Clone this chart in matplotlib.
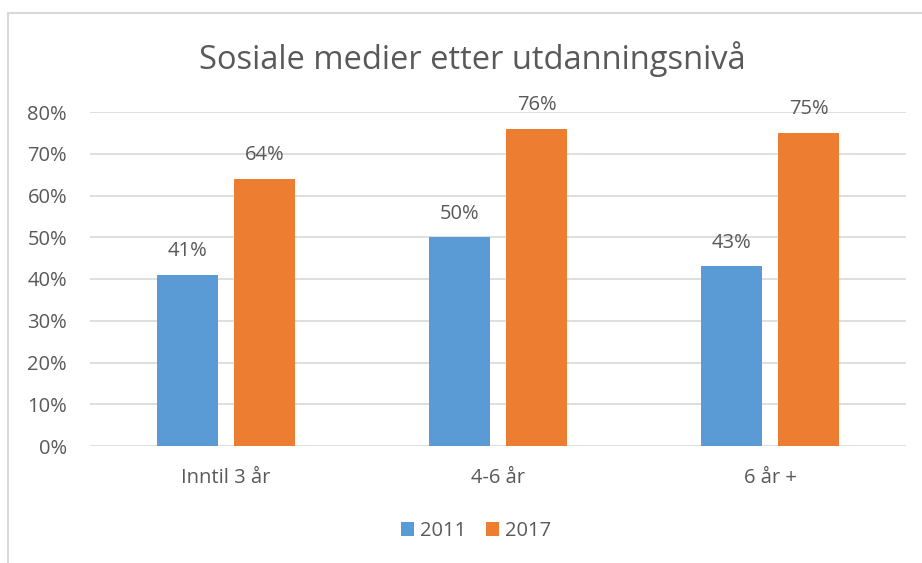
import numpy as np
import matplotlib.pyplot as plt
from matplotlib.patches import Rectangle

# data
categories = ['Inntil 3 år', '4-6 år', '6 år +']
years = ['2011', '2017']
values_2011 = [41, 50, 43]
values_2017 = [64, 76, 75]
colors = ['#5B9BD5', '#ED7D31']
text_color = '#595959'

plt.rcParams['font.family'] = ['Open Sans', 'DejaVu Sans']

fig = plt.figure(figsize=(9.22, 5.63), dpi=100)
# plot area in pixels: x 90..906, y 112..446 (image coords)
W, H = 922, 563
ax = fig.add_axes([90 / W, 1 - 446 / H, (906 - 90) / W, (446 - 112) / H])

# chart border (extends past right/bottom edge like the crop)
fig.patches.append(Rectangle((8 / W, -0.1), 1.2, 1 - 13 / H + 0.1,
                             transform=fig.transFigure, fill=False,
                             edgecolor='#D9D9D9', linewidth=1.5))

x = np.arange(len(categories))
width = 0.224
offset = 0.142
bars1 = ax.bar(x - offset, values_2011, width, color=colors[0], label=years[0], zorder=3)
bars2 = ax.bar(x + offset, values_2017, width, color=colors[1], label=years[1], zorder=3)

for bars in (bars1, bars2):
    for b in bars:
        ax.annotate(f'{int(b.get_height())}%', (b.get_x() + b.get_width() / 2, b.get_height()),
                    xytext=(0, 17), textcoords='offset points', ha='center', va='center',
                    fontsize=14.5, color=text_color, zorder=4)

ax.set_xlim(-0.5, 2.5)
ax.set_ylim(0, 80)
ax.set_yticks(range(0, 81, 10))
ax.set_yticklabels([f'{v}%' for v in range(0, 81, 10)])
ax.set_xticks(x)
ax.set_xticklabels(categories)
ax.grid(axis='y', color='#D9D9D9', linewidth=1.2, zorder=0)
for s in ax.spines.values():
    s.set_visible(False)
ax.tick_params(length=0, labelsize=14.5, colors=text_color)
ax.tick_params(axis='y', pad=16.5)
ax.tick_params(axis='x', pad=16)

fig.text(472 / W, 1 - 59 / H, 'Sosiale medier etter utdanningsnivå', ha='center', va='center',
         fontsize=23.5, color=text_color)

ax.legend(loc='center', bbox_to_anchor=(476 / W, 1 - 531 / H), bbox_transform=fig.transFigure,
          ncol=2, frameon=False, fontsize=14.5, labelcolor=text_color,
          handlelength=0.65, handleheight=0.65, columnspacing=0.95, handletextpad=0.3)

fig.savefig('out.png', dpi=100, facecolor='white')
